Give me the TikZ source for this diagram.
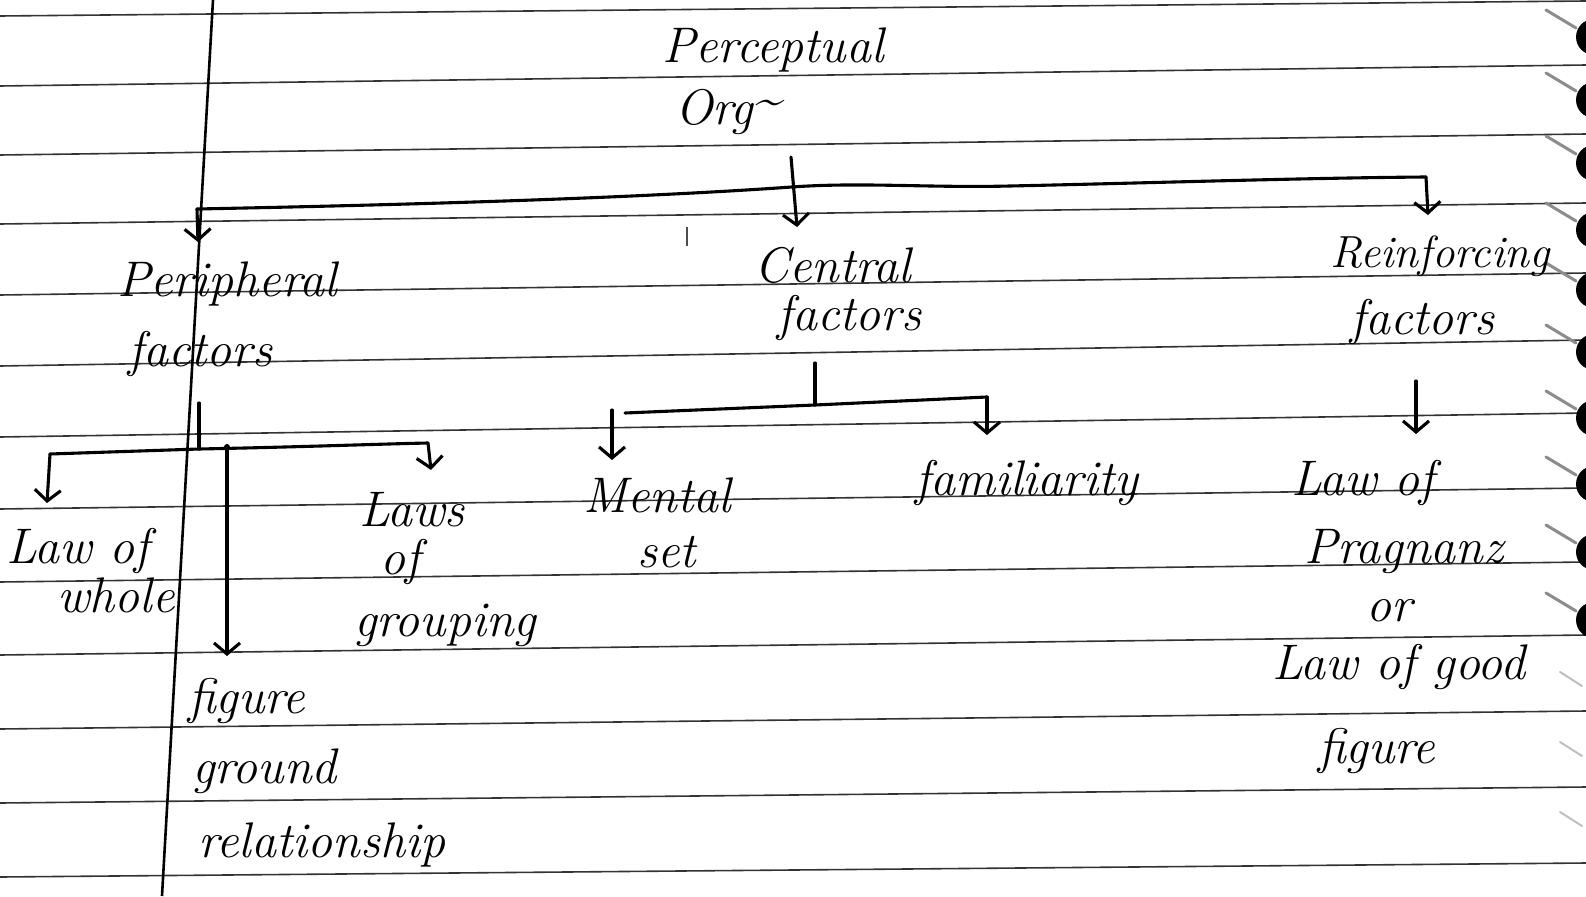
\documentclass[tikz,border=0pt]{standalone}
\usetikzlibrary{arrows.meta}
\tikzset{
  hand/.style={font=\fontsize{50}{60}\selectfont\itshape, inner sep=0pt, anchor=base west},
  handE/.style={hand, anchor=base east},
  ink/.style={line width=3.1pt, line cap=round, line join=round, black},
  arr/.style={ink, -{Straight Barb[length=11pt,width=26pt]}},
  rule/.style={line width=1.6pt, black!80},
  margin/.style={line width=2.6pt, black},
}
\begin{document}
\begin{tikzpicture}[x=1pt,y=-1pt]
\useasboundingbox (0,0) rectangle (1586,896);
\fill[white] (0,0) rectangle (1586,896);
\clip (0,0) rectangle (1586,896);
% ruled lines
\foreach \a/\b in {16/1,86/65,155/134,224/203,295/273,366/340,437/413,509/488,582/562,655/635,729/711,803/787,877/863}
  \draw[rule] (0,\a) -- (1586,\b);
% margin line
\draw[margin] (213,0) -- (162,896);
% binding holes
\foreach \y in {37,100,163,230,290,352,418,484,552,620} {
  \draw[black!45, line width=3pt, line cap=round] (1546,\y-27) -- (1576,\y-9);
  \fill[black] (1594,\y) ellipse [x radius=18pt, y radius=18pt];
}
\foreach \y in {686,756,826}
  \draw[black!25, line width=2pt, line cap=round] (1560,\y-14) -- (1582,\y);
% stray tick
\draw[line width=1.4pt, black!70] (687,227) -- (687,246);

% texts
\node[hand] (perc) at (662,63) {Perceptual};
\node[hand] (org) at (675,125) {Org\raisebox{.45ex}{\textasciitilde}};
\node[hand] (per1) at (117,296) {Peripheral};
\node[hand] (per2) at (128,366) {factors};
\node[hand] (cen1) at (754,282) {Central};
\node[hand] (cen2) at (777,330) {factors};
\node[hand, font=\fontsize{45}{55}\selectfont\itshape] (rei1) at (1330,267) {Reinforcing};
\node[hand] (rei2) at (1350,334) {factors};
\node[handE] (who1) at (150,563) {Law of};
\node[hand] (who2) at (57,612) {whole};
\node[hand] (fig1) at (188,713) {figure};
\node[hand] (fig2) at (192,783) {ground};
\node[hand] (fig3) at (198,857) {relationship};
\node[hand] (gro1) at (359,526) {Laws};
\node[hand] (gro2) at (380,574) {of};
\node[hand] (gro3) at (354,636) {grouping};
\node[hand] (men1) at (583,512) {Mental};
\node[hand] (men2) at (637,567) {set};
\node[hand] (fam) at (915,495) {familiarity};
\node[hand] (pra1) at (1291,495) {Law of};
\node[hand] (pra2) at (1304,563) {Pragnanz};
\node[hand] (pra3) at (1366,621) {or};
\node[hand] (pra4) at (1272,679) {Law of good};
\node[hand] (pra5) at (1318,763) {figure};

% connector points
\coordinate (orgS) at (791,157);
\coordinate (ctrN) at (797,227);
\coordinate (brL) at (197,209);
\coordinate (brM) at (792,187);
\coordinate (brR) at (1426,177);
\coordinate (perN) at (198,242);
\coordinate (reiN) at (1428,215);
\coordinate (perS) at (199,403);
\coordinate (pJ) at (199,449);
\coordinate (pL) at (50,454);
\coordinate (pF) at (227,447);
\coordinate (pR) at (428,443);
\coordinate (wholeN) at (47,503);
\coordinate (figN) at (227,656);
\coordinate (lawsN) at (431,470);
\coordinate (ctrS) at (815,363);
\coordinate (cJ) at (815,405);
\coordinate (cL) at (625,413);
\coordinate (cR) at (987,397);
\coordinate (cLa) at (612,410);
\coordinate (menN) at (612,460);
\coordinate (famN) at (987,435);
\coordinate (reiS) at (1416,381);
\coordinate (prN) at (1416,434);

% top level
\draw[arr] (orgS) -- (ctrN);
\draw[ink] (brL) .. controls (450,204) and (650,197) .. (brM)
  .. controls (860,182) and (930,188) .. (1010,186)
  .. controls (1150,183) and (1300,178) .. (brR);
\draw[arr] (brL) -- (perN);
\draw[arr] (brR) -- (reiN);
% peripheral
\draw[ink] (perS) -- (pJ);
\draw[ink] (pL) -- (pJ) .. controls (300,447) and (380,444) .. (pR);
\draw[arr] (pL) -- (wholeN);
\fill (pF) circle (3pt);
\draw[arr] (pF) -- (figN);
\draw[arr] (pR) -- (lawsN);
% central
\draw[ink] (ctrS) -- (cJ);
\draw[ink] (cL) -- (cJ) -- (cR);
\draw[arr] (cLa) -- (menN);
\draw[arr] (cR) -- (famN);
% reinforcing
\draw[arr] (reiS) -- (prN);
\end{tikzpicture}
\end{document}
